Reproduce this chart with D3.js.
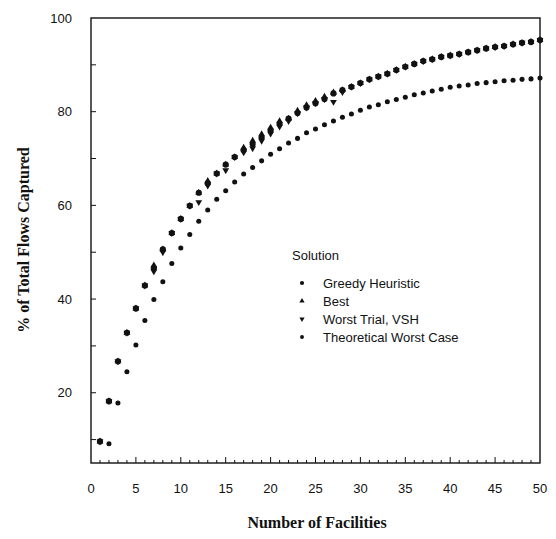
<!DOCTYPE html>
<html>
<head>
<meta charset="utf-8">
<script src="https://cdn.jsdelivr.net/npm/d3@7"></script>
<style>
    body { margin: 0; background: #fff; }
    text { fill: #111; }
</style>
</head>
<body>
<div id="chart-area"></div>
<script>
// number of facilities
const facilities = d3.range(1, 51)

// % of total flows captured
const greedy = [9.6, 18.2, 26.7, 32.8, 38.0, 42.9, 46.6, 50.6, 54.1, 57.1,
    59.9, 62.7, 64.7, 66.8, 68.7, 70.3, 71.8, 73.1, 74.5, 76.0,
    77.4, 78.5, 79.7, 80.9, 81.8, 82.7, 83.9, 84.6, 85.3, 86.1,
    86.9, 87.5, 88.1, 88.9, 89.6, 90.2, 90.8, 91.2, 91.7, 92.0,
    92.3, 92.7, 93.1, 93.5, 93.8, 94.0, 94.4, 94.7, 94.9, 95.3]

const best = [9.6, 18.2, 26.7, 32.8, 38.0, 42.9, 47.2, 50.6, 54.1, 57.1,
    59.9, 62.7, 65.2, 66.8, 68.7, 70.3, 72.3, 73.8, 75.2, 76.6,
    78.0, 78.5, 80.2, 81.4, 82.3, 83.2, 84.1, 84.6, 85.3, 86.1,
    86.9, 87.5, 88.1, 88.9, 89.6, 90.2, 90.8, 91.2, 91.7, 92.0,
    92.3, 92.7, 93.1, 93.5, 93.8, 94.0, 94.4, 94.7, 94.9, 95.3]

const worstTrial = [9.6, 18.2, 26.7, 32.8, 38.0, 42.9, 45.9, 50.0, 54.1, 57.1,
    59.9, 60.7, 64.2, 66.8, 67.5, 70.3, 71.3, 72.2, 73.8, 75.3,
    76.8, 78.0, 79.7, 80.9, 81.8, 82.7, 82.1, 84.2, 85.3, 86.1,
    86.9, 87.5, 88.1, 88.9, 89.6, 90.2, 90.8, 91.2, 91.7, 92.0,
    92.3, 92.7, 93.1, 93.5, 93.8, 94.0, 94.4, 94.7, 94.9, 95.3]

// theoretical worst case starts at 2 facilities
const theoretical = [null, 9.1, 17.8, 24.5, 30.2, 35.4, 39.9, 43.7, 47.6, 50.9,
    53.8, 56.6, 59.0, 61.3, 63.1, 65.0, 66.7, 68.1, 69.5, 70.9,
    72.1, 73.3, 74.3, 75.5, 76.3, 77.2, 78.0, 78.8, 79.5, 80.3,
    81.0, 81.5, 82.1, 82.6, 83.1, 83.6, 84.0, 84.4, 84.8, 85.2,
    85.5, 85.7, 86.0, 86.2, 86.4, 86.6, 86.7, 86.9, 87.0, 87.2]

const xTicks = [0, 5, 10, 15, 20, 25, 30, 35, 40, 45, 50]
const yTicks = [20, 40, 60, 80, 100]

const seriesNames = ["Greedy Heuristic", "Best", "Worst Trial, VSH", "Theoretical Worst Case"]

function drawChart() {
    const svgWidth = 556
    const svgHeight = 539
    const margin = { left: 91, right: 16, top: 18, bottom: 76 }
    const chartWidth = svgWidth - margin.left - margin.right
    const chartHeight = svgHeight - margin.top - margin.bottom

    const xScale = d3.scaleLinear()
        .domain([0, 50])
        .range([0, chartWidth])

    const yScale = d3.scaleLinear()
        .domain([5, 100])
        .range([chartHeight, 0])

    const svg = d3.select("#chart-area")
        .append("svg")
        .attr("width", svgWidth)
        .attr("height", svgHeight)

    const chart = svg.append("g")
        .attr("transform", `translate(${margin.left},${margin.top})`)

    // frame
    chart.append("rect")
        .attr("width", chartWidth)
        .attr("height", chartHeight)
        .attr("fill", "none")
        .attr("stroke", "#111")
        .attr("stroke-width", 1.4)

    // x axis: minor tick every facility, taller every 5
    const xAxis = chart.append("g")
        .attr("class", "x-axis")
        .attr("transform", `translate(0,${chartHeight})`)

    xAxis.selectAll("line")
        .data(facilities.filter(d => d < 50))
        .join("line")
        .attr("x1", d => xScale(d))
        .attr("x2", d => xScale(d))
        .attr("y1", 0)
        .attr("y2", d => d % 5 === 0 ? -6 : -3)
        .attr("stroke", "#111")
        .attr("stroke-width", 1)

    xAxis.selectAll("text")
        .data(xTicks)
        .join("text")
        .attr("x", d => xScale(d))
        .attr("y", 30)
        .attr("text-anchor", "middle")
        .style("font", "13px 'Liberation Sans', Arial, sans-serif")
        .text(d => d)

    // y axis: ticks every 10, labels every 20
    const yAxis = chart.append("g")
        .attr("class", "y-axis")

    yAxis.selectAll("line")
        .data(d3.range(10, 100, 10))
        .join("line")
        .attr("x1", 0)
        .attr("x2", 5)
        .attr("y1", d => yScale(d))
        .attr("y2", d => yScale(d))
        .attr("stroke", "#111")
        .attr("stroke-width", 1)

    yAxis.selectAll("text")
        .data(yTicks)
        .join("text")
        .attr("x", -19)
        .attr("y", d => yScale(d))
        .attr("dy", "0.35em")
        .attr("text-anchor", "end")
        .style("font", "13px 'Liberation Sans', Arial, sans-serif")
        .text(d => d)

    // axis titles
    svg.append("text")
        .attr("x", 317)
        .attr("y", 528)
        .attr("text-anchor", "middle")
        .style("font", "bold 16px 'Liberation Serif', 'Times New Roman', serif")
        .text("Number of Facilities")

    svg.append("text")
        .attr("transform", "translate(29,240) rotate(-90)")
        .attr("text-anchor", "middle")
        .style("font", "bold 16px 'Liberation Serif', 'Times New Roman', serif")
        .text("% of Total Flows Captured")

    // points, drawn back to front
    const symbols = [
        { values: theoretical, type: d3.symbolCircle, size: 20 },
        { values: worstTrial, type: d3.symbolTriangle, size: 20, flip: true },
        { values: best, type: d3.symbolTriangle, size: 20 },
        { values: greedy, type: d3.symbolCircle, size: 30 }
    ]

    symbols.forEach(s => {
        chart.append("g")
            .selectAll("path")
            .data(facilities.filter((d, i) => s.values[i] != null))
            .join("path")
            .attr("transform", d => `translate(${xScale(d)},${yScale(s.values[d - 1])})` +
                (s.flip ? " rotate(180)" : ""))
            .attr("d", d3.symbol().type(s.type).size(s.size))
            .attr("fill", "#111")
    })

    // legend
    const legend = svg.append("g")
        .attr("transform", "translate(292,0)")

    legend.append("text")
        .attr("x", 0)
        .attr("y", 260)
        .style("font", "13px 'Liberation Sans', Arial, sans-serif")
        .text("Solution")

    const legendSymbols = [
        { type: d3.symbolCircle, size: 14 },
        { type: d3.symbolTriangle, size: 12 },
        { type: d3.symbolTriangle, size: 12, flip: true },
        { type: d3.symbolCircle, size: 12 }
    ]

    const rows = legend.selectAll(".row")
        .data(seriesNames)
        .join("g")
        .attr("class", "row")
        .attr("transform", (d, i) => `translate(0,${283 + i * 18})`)

    rows.append("path")
        .attr("transform", (d, i) => "translate(10,0)" + (legendSymbols[i].flip ? " rotate(180)" : ""))
        .attr("d", (d, i) => d3.symbol().type(legendSymbols[i].type).size(legendSymbols[i].size)())
        .attr("fill", "#111")

    rows.append("text")
        .attr("x", 31)
        .attr("dy", "0.35em")
        .style("font", "13px 'Liberation Sans', Arial, sans-serif")
        .text(d => d)
}

drawChart()
</script>
</body>
</html>
